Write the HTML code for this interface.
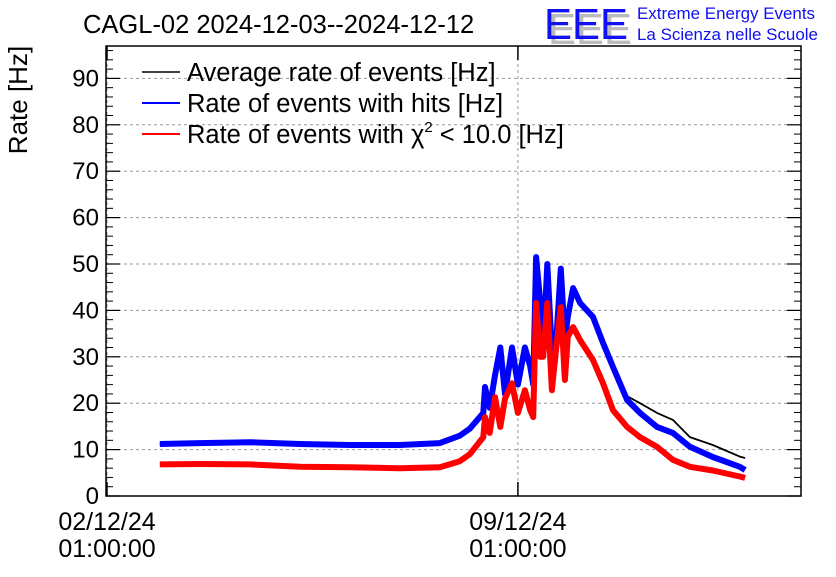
<!DOCTYPE html>
<html><head><meta charset="utf-8"><style>
body{margin:0;background:#fff;}
svg text{font-family:"Liberation Sans",sans-serif;}
</style></head><body>
<svg id="c" width="836" height="572" viewBox="0 0 836 572" xmlns="http://www.w3.org/2000/svg">
<rect width="836" height="572" fill="#fff"/>
<text x="83" y="33" font-size="25.5">CAGL-02 2024-12-03--2024-12-12</text>
<g>
<text x="548" y="44" font-size="44" fill="#bbb" textLength="84" lengthAdjust="spacingAndGlyphs">EEE</text>
<text x="544" y="39" font-size="44" fill="#1010f0" textLength="84" lengthAdjust="spacingAndGlyphs">EEE</text>
<text x="637" y="19" font-size="16.5" fill="#1010f0" textLength="178" lengthAdjust="spacingAndGlyphs">Extreme Energy Events</text>
<text x="637" y="40" font-size="16.5" fill="#1010f0" textLength="181" lengthAdjust="spacingAndGlyphs">La Scienza nelle Scuole</text>
</g>
<text transform="translate(27,100) rotate(-90)" text-anchor="middle" font-size="26">Rate [Hz]</text>
<g id="grid"></g><g id="axes"></g><g id="series"></g>
<rect x="106" y="46" width="695" height="450" fill="none" stroke="#000" stroke-width="1.5"/>
<g>
<line x1="142" y1="72" x2="180" y2="72" stroke="#000" stroke-width="1.5"/>
<text x="187" y="81" font-size="25.5">Average rate of events [Hz]</text>
<line x1="142" y1="103" x2="180" y2="103" stroke="#00f" stroke-width="2"/>
<text x="187" y="112" font-size="25.5">Rate of events with hits [Hz]</text>
<line x1="142" y1="134" x2="180" y2="134" stroke="#f00" stroke-width="2"/>
<text x="187" y="143" font-size="25.5">Rate of events with χ<tspan font-size="15" dy="-11">2</tspan><tspan dy="11"> &lt; 10.0 [Hz]</tspan></text>
</g>
</svg>
<script>
const times=[0.90,1.58,2.44,3.29,4.14,4.99,5.67,6.01,6.18,6.41,6.44,6.52,6.61,6.70,6.78,6.90,7.00,7.12,7.21,7.26,7.31,7.38,7.43,7.50,7.58,7.63,7.73,7.80,7.85,7.94,8.06,8.28,8.45,8.62,8.86,9.08,9.37,9.64,9.93,10.32,10.78,10.87];
const hitsRate=[11.2,11.4,11.6,11.2,11.0,11.0,11.4,13,14.5,17.9,23.5,19,26,32,22,32,24,32,28,24,51.5,42,31,50,31,29,49,33.6,38.6,44.8,41.6,38.6,33,27.8,20.7,17.9,14.9,13.6,10.6,8.4,6.3,5.6];
const chi2Rate=[6.8,6.9,6.8,6.3,6.2,6.0,6.2,7.5,9,12.7,17,13.6,21.3,14.9,21,24.3,17.9,22.8,18.5,17,41.6,30,30,41.6,22.8,29.3,40.7,25,34.3,36.4,33.6,29.3,24.3,18.5,14.9,12.7,10.6,7.8,6.3,5.5,4.2,3.9];
const avgRate=[11.2,11.4,11.6,11.2,11.0,11.0,11.4,13,14.5,17.9,23.5,19,26,32,22,32,24,32,28,24,51.5,42,31,50,31,29,49,33.6,38.6,44.8,41.6,38.6,33,27.8,21.5,20,17.9,16.4,12.7,11.0,8.5,8.2];
const yTicks=[0,10,20,30,40,50,60,70,80,90];
const xTickDays=[0,7];
const xTickLabels=[["02/12/24","01:00:00"],["09/12/24","01:00:00"]];
const X0=107,PXD=58.7,Y0=496,PXV=4.64;
const xs=d=>X0+d*PXD, ys=v=>Y0-v*PXV;
const NS="http://www.w3.org/2000/svg";
function mk(t,a,p){const e=document.createElementNS(NS,t);for(const k in a)e.setAttribute(k,a[k]);p.appendChild(e);return e;}
const grid=document.getElementById('grid'),axes=document.getElementById('axes'),ser=document.getElementById('series');
yTicks.forEach(v=>{const y=ys(v);
 if(v>0){const g=mk('line',{x1:106,x2:801,y1:y,y2:y,stroke:'#999','stroke-dasharray':'3,3','stroke-width':1},grid);
 
 }
 mk('line',{x1:106,x2:120,y1:y,y2:y,stroke:'#000','stroke-width':1.2},axes);
 mk('line',{x1:787,x2:801,y1:y,y2:y,stroke:'#000','stroke-width':1.2},axes);
 const t=mk('text',{x:99,y:y+8,'text-anchor':'end','font-size':24},axes);t.textContent=v;
 
 
});
for(let v=2;v<97;v+=2){if(v%10===0)continue;const y=ys(v);
 mk('line',{x1:106,x2:113,y1:y,y2:y,stroke:'#000'},axes);mk('line',{x1:794,x2:801,y1:y,y2:y,stroke:'#000'},axes);}
xTickDays.forEach((d,i)=>{const x=xs(d);
 const g=mk('line',{x1:x,x2:x,y1:46,y2:496,stroke:'#999','stroke-dasharray':'3,3'},grid);
 
 
 mk('line',{x1:x,x2:x,y1:482,y2:496,stroke:'#000','stroke-width':1.5},axes);
 mk('line',{x1:x,x2:x,y1:46,y2:60,stroke:'#000','stroke-width':1.5},axes);
 const t=mk('text',{x:x,y:530,'text-anchor':'middle','font-size':25},axes);t.textContent=xTickLabels[i][0];
 
 
 const t2=mk('text',{x:x,y:557,'text-anchor':'middle','font-size':25},axes);t2.textContent=xTickLabels[i][1];
 
 
});
function line(vals,col,w,name){const d=vals.map((v,i)=>(i?'L':'M')+xs(times[i]).toFixed(1)+','+ys(v).toFixed(1)).join('');
 const p=mk('path',{d:d,fill:'none',stroke:col,'stroke-width':w,'stroke-linejoin':'round'},ser);
 
 }
line(avgRate,'#000',1.8,'series-average-rate');
line(hitsRate,'#00f',6,'series-hits-rate');
line(chi2Rate,'#f00',6,'series-chi2-rate');
</script>
</body></html>
